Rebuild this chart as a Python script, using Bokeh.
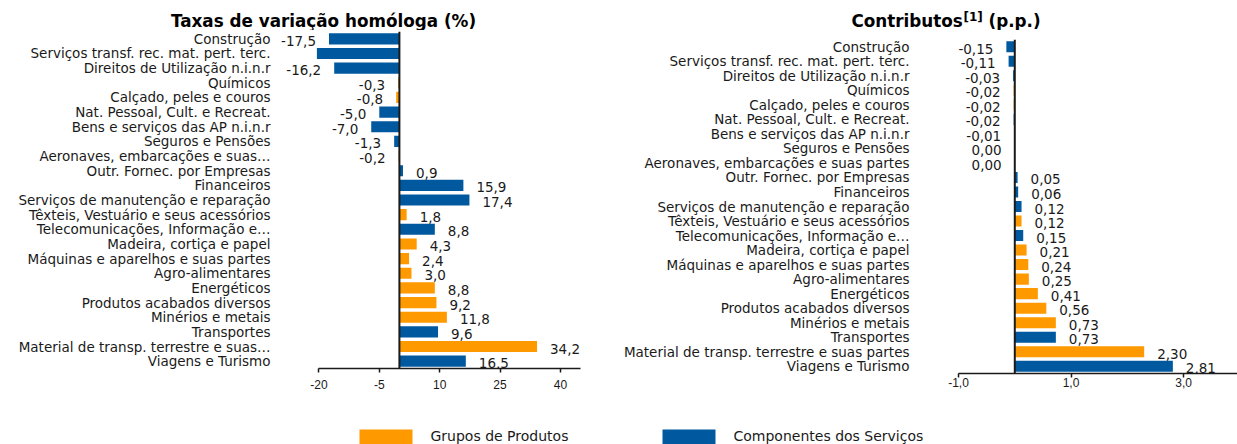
from bokeh.plotting import figure
from bokeh.models import (FactorRange, Range1d, FixedTicker, Span, Label, LabelSet,
                          ColumnDataSource, Spacer)
from bokeh.layouts import column, row
from bokeh.embed import file_html
from bokeh.resources import INLINE
from bokeh.core.properties import value

# ---------------- data (top to bottom) ----------------
categories = [
    "Construção",
    "Serviços transf. rec. mat. pert. terc.",
    "Direitos de Utilização n.i.n.r",
    "Químicos",
    "Calçado, peles e couros",
    "Nat. Pessoal, Cult. e Recreat.",
    "Bens e serviços das AP n.i.n.r",
    "Seguros e Pensões",
    "Aeronaves, embarcações e suas partes",
    "Outr. Fornec. por Empresas",
    "Financeiros",
    "Serviços de manutenção e reparação",
    "Têxteis, Vestuário e seus acessórios",
    "Telecomunicações, Informação e Informática",
    "Madeira, cortiça e papel",
    "Máquinas e aparelhos e suas partes",
    "Agro-alimentares",
    "Energéticos",
    "Produtos acabados diversos",
    "Minérios e metais",
    "Transportes",
    "Material de transp. terrestre e suas partes",
    "Viagens e Turismo",
]
# P = Grupos de Produtos, S = Componentes dos Serviços
groups = ["S", "S", "S", "P", "P", "S", "S", "S", "P", "S", "S", "S",
          "P", "S", "P", "P", "P", "P", "P", "P", "S", "P", "S"]
taxas = [-17.5, -20.5, -16.2, -0.3, -0.8, -5.0, -7.0, -1.3, -0.2, 0.9, 15.9, 17.4,
         1.8, 8.8, 4.3, 2.4, 3.0, 8.8, 9.2, 11.8, 9.6, 34.2, 16.5]
contributos = [-0.15, -0.11, -0.03, -0.02, -0.02, -0.02, -0.01, -0.004, -0.002, 0.05, 0.06, 0.12,
               0.12, 0.15, 0.21, 0.24, 0.25, 0.41, 0.56, 0.73, 0.73, 2.30, 2.81]

# labels as they are shown (truncated) in each chart
left_short = {
    "Aeronaves, embarcações e suas partes": "Aeronaves, embarcações e suas…",
    "Telecomunicações, Informação e Informática": "Telecomunicações, Informação e…",
    "Material de transp. terrestre e suas partes": "Material de transp. terrestre e suas…",
}
right_short = {
    "Telecomunicações, Informação e Informática": "Telecomunicações, Informação e…",
}

left_ticks = [-20, -5, 10, 25, 40]
right_ticks = [-1, 1, 3]
right_tick_labels = {-1: "-1,0", 1: "1,0", 3: "3,0"}

legend_order = ["P", "S"]
legend_names = {"P": "Grupos de Produtos", "S": "Componentes dos Serviços"}

# ---------------- style ----------------
ORANGE = "#FF9900"
BLUE = "#00599F"
colors = {"P": ORANGE, "S": BLUE}
TXT = "#1a1a1a"
FONT = "DejaVu Sans"
TICK_FONT = "Liberation Sans"


def fmt(v, nd):
    s = f"{v:.{nd}f}"
    if float(s) == 0:
        s = s.lstrip("-")
    return s.replace(".", ",")


def strip(w, h):
    s = figure(width=w, height=h, x_range=Range1d(0, w), y_range=Range1d(0, h),
               output_backend="svg", toolbar_location=None, min_border=0,
               x_axis_type=None, y_axis_type=None)
    s.title.visible = False
    s.outline_line_color = None
    s.grid.visible = False
    return s


def make_chart(vals, nd, xr, bounds, ticks, tick_labels, short, w, h, borders,
               neg_off, pos_off, std, hide_below=None):
    bl, br, bt, bb = borders
    names = [short.get(c, c) for c in categories]
    p = figure(width=w, height=h, x_range=xr,
               y_range=FactorRange(factors=names[::-1], range_padding=0),
               output_backend="svg", toolbar_location=None,
               min_border_left=bl, min_border_right=br, min_border_top=bt, min_border_bottom=bb)
    p.title.visible = False
    p.outline_line_color = None
    p.xgrid.visible = False
    p.ygrid.visible = False

    src = ColumnDataSource(dict(cat=names, val=vals,
                                color=[colors[g] for g in groups]))
    p.hbar(y="cat", left=0, right="val", height=0.76, fill_color="color",
           line_color=None, source=src)

    p.add_layout(Span(location=0, dimension="height", line_color=TXT, line_width=2))

    # data labels
    neg = dict(cat=[], val=[], txt=[])
    pos = dict(cat=[], val=[], txt=[])
    for c, v in zip(names, vals):
        if hide_below is not None and v < hide_below:
            continue
        d = pos if v >= 0 else neg
        d["cat"].append(c)
        d["val"].append(v)
        d["txt"].append(fmt(v, nd))
    for d, align, off in ((neg, "right", neg_off), (pos, "left", pos_off)):
        p.add_layout(LabelSet(x="val", y="cat", text="txt", source=ColumnDataSource(d),
                              text_align=align, text_baseline="middle",
                              x_offset=off, y_offset=-2,
                              text_font=value(FONT), text_font_size="13.5px",
                              text_color=TXT))

    xa = p.xaxis[0]
    xa.ticker = FixedTicker(ticks=ticks)
    xa.major_label_overrides = tick_labels
    xa.bounds = bounds
    xa.axis_line_color = TXT
    xa.axis_line_width = 1.5
    xa.major_tick_line_color = TXT
    xa.major_tick_line_width = 1.5
    xa.major_tick_out = 4
    xa.major_tick_in = 0
    xa.minor_tick_line_color = None
    xa.major_label_standoff = std
    xa.major_label_text_font = TICK_FONT
    xa.major_label_text_font_size = "12px"
    xa.major_label_text_color = TXT

    ya = p.yaxis[0]
    ya.axis_line_color = None
    ya.major_tick_line_color = None
    ya.minor_tick_line_color = None
    ya.major_tick_out = 0
    ya.major_tick_in = 0
    ya.major_label_standoff = 6
    ya.major_label_text_font = FONT
    ya.major_label_text_font_size = "13.5px"
    ya.major_label_text_color = TXT
    return p


# left chart: frame x 276..600, y 31..368 (page px)
p1 = make_chart(taxas, 1, Range1d(-30.54, 49.97), (-20, 45), left_ticks,
                {t: str(t) for t in left_ticks}, left_short,
                600, 382, (276, 0, 1, 44), -13, 13, 7, hide_below=left_ticks[0])

# right chart: frame x 915..1237, y 39..373
p2 = make_chart(contributos, 2, Range1d(-1.765, 3.959), (-1.0, 3.959), right_ticks,
                right_tick_labels, right_short, 637, 379, (315, 0, 1, 44), -13, 13, 0)
right_col = column(Spacer(width=637, height=8), p2)

# title strip (1 data unit = 1 px, y measured from strip bottom)
pt = strip(1237, 30)
for txt, x, y, size, align in (("Taxas de variação homóloga (%)", 323, 10, "16.8px", "center"),
                               ("Contributos", 851, 10, "16.8px", "left"),
                               ("[1]", 963, 13.6, "12px", "left"),
                               ("(p.p.)", 988, 10, "16.8px", "left")):
    pt.add_layout(Label(x=x, y=y, text=txt, text_align=align, text_baseline="middle",
                        text_font=FONT, text_font_style="bold",
                        text_font_size=size, text_color="black"))

# legend strip
pl = strip(1237, 27)
for g, x0 in zip(legend_order, (359, 662)):
    pl.quad(left=[x0], right=[x0 + 53], bottom=[0], top=[15],
            fill_color=colors[g], line_color=None)
    pl.add_layout(Label(x=x0 + 71, y=8.3, text=legend_names[g], text_align="left",
                        text_baseline="middle", text_font=FONT, text_font_size="14px",
                        text_color=TXT))

layout = column(pt, row(p1, right_col), pl)
open("out.html", "w").write(file_html(layout, INLINE))
